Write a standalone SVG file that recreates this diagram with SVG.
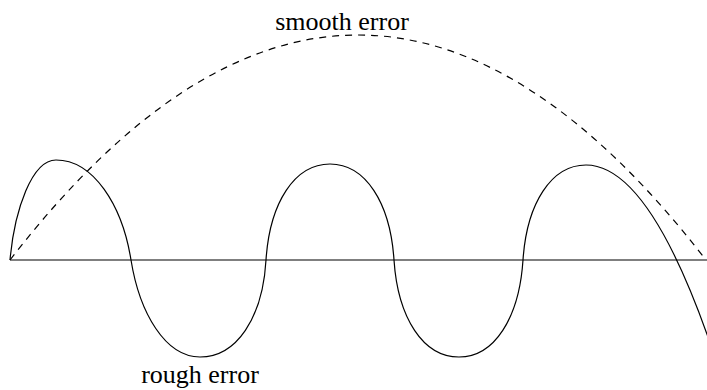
<svg xmlns="http://www.w3.org/2000/svg" width="707" height="390" viewBox="0 0 707 390">
<style>
.lbl{font-family:"Liberation Serif","Times New Roman",serif;font-size:26px;fill:#000;text-anchor:middle}
.ln{fill:none;stroke:#000;stroke-width:1.2}
</style>
<rect width="707" height="390" fill="#fff"/>
<g id="connectors">
<line id="axis" class="ln" x1="10" y1="260" x2="707" y2="260"/>
<path id="smooth" class="ln" stroke-dasharray="7 6" d="M10,260 Q358,-190 706,260"/>
<path id="rough" class="ln" d="M10,260 C14.6,209.5 32,160 56,160 C93,160 122.1,204.5 131,260 C139.6,313.4 165.5,357 200,357 C236.3,357 262.7,318.2 266,260 C269.8,202.4 294.8,164 330,164 C365.2,164 390.2,202.4 394,260 C397.9,318.2 423.25,357 459,357 C494.2,357 519.2,318.2 523,260 C526.8,203 551.5,165 586,165 Q647,165 708,337"/>
</g>
<g id="label-smooth"><text class="lbl" x="342" y="30">smooth error</text></g>
<g id="label-rough"><text class="lbl" x="200" y="383">rough error</text></g>
</svg>
